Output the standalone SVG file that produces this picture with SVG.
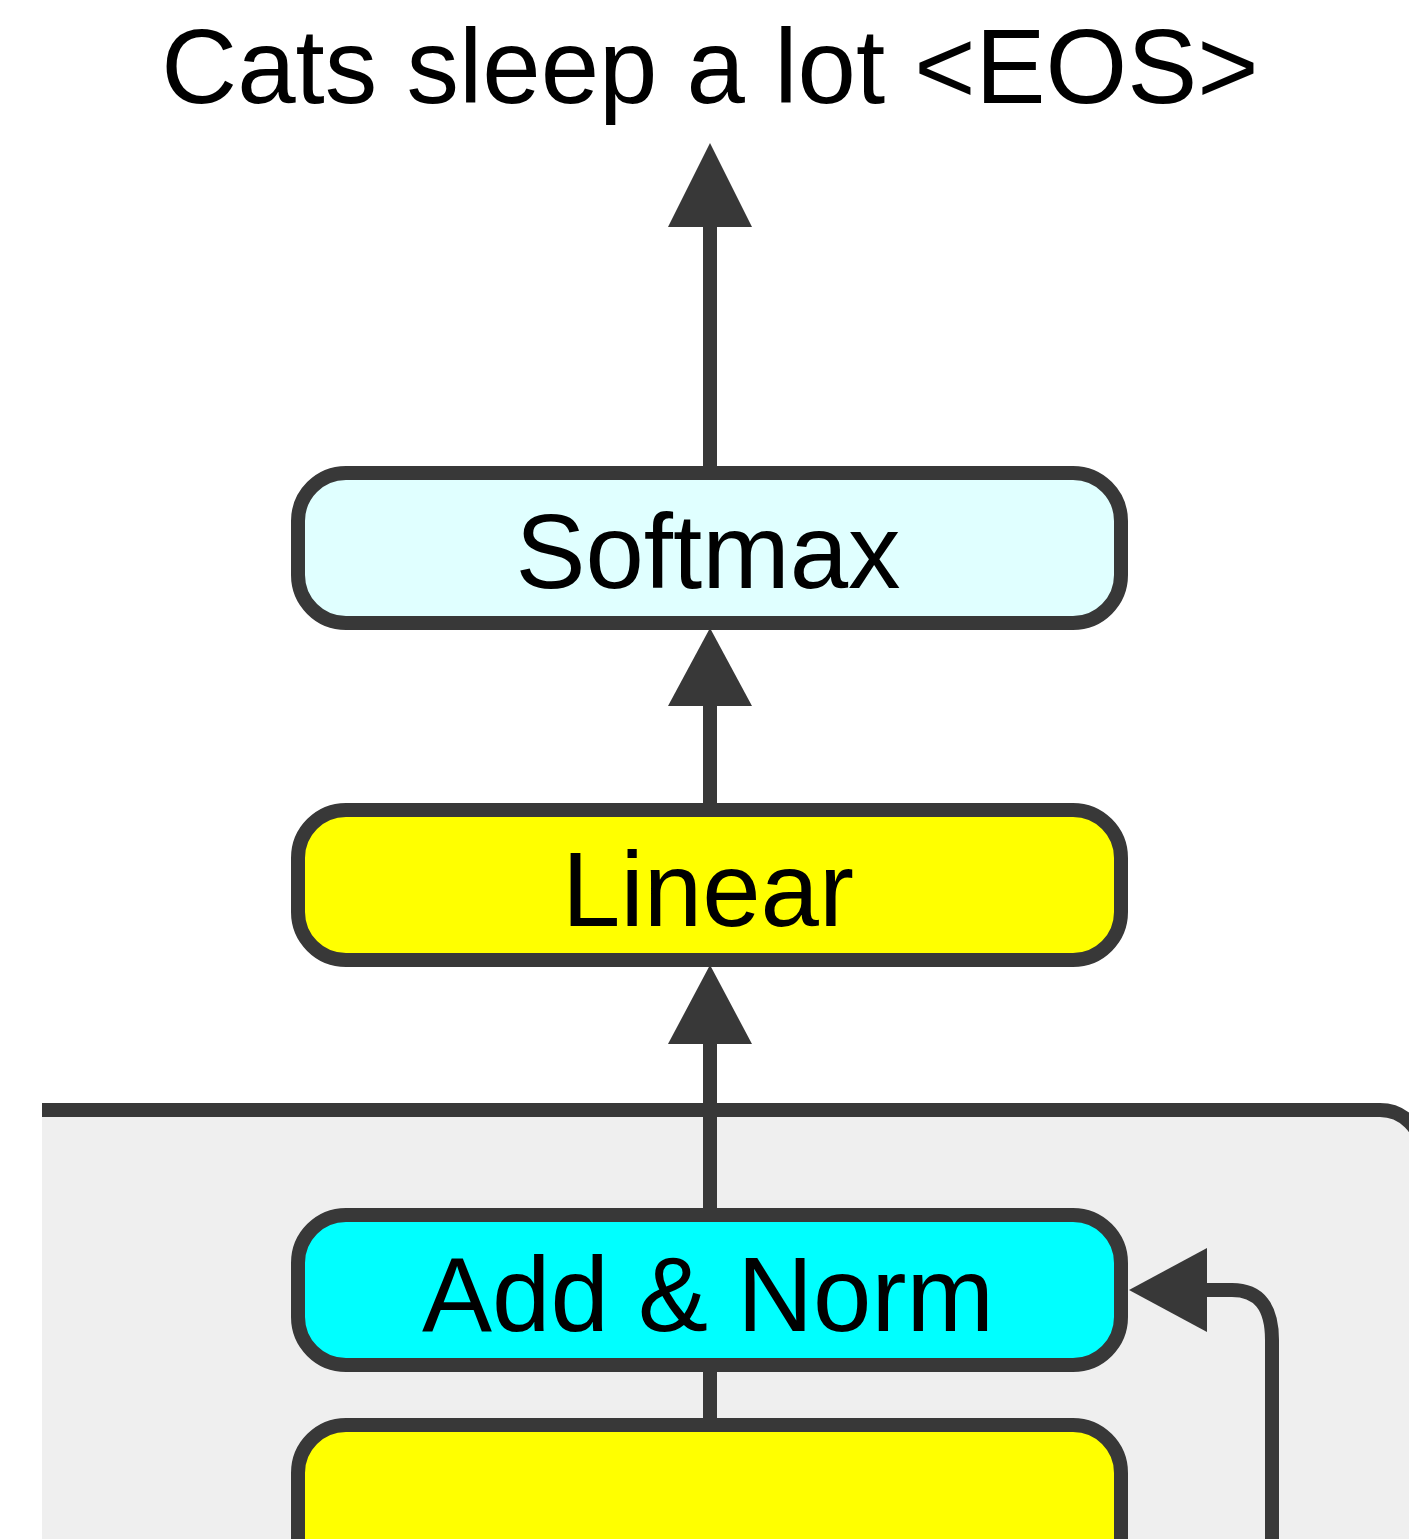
<svg xmlns="http://www.w3.org/2000/svg" width="1409" height="1539" viewBox="0 0 1409 1539">
<style>
.box{stroke:#383838;stroke-width:14}
.lbl{font-family:"Liberation Sans",Arial,sans-serif;font-size:105px;fill:#000;text-anchor:middle}
.ln{stroke:#383838;stroke-width:14;fill:none}
.ah{fill:#383838}
</style>
<defs>
<clipPath id="clipL"><rect x="42" y="0" width="1400" height="1539"/></clipPath>
</defs>
<rect width="1409" height="1539" fill="#ffffff"/>
<g id="decoder" clip-path="url(#clipL)">
<rect x="-200" y="1110" width="1622" height="600" rx="42" fill="#efefef" stroke="#383838" stroke-width="14"/>
</g>
<text class="lbl" x="710" y="103">Cats sleep a lot &lt;EOS&gt;</text>
<g id="softmax">
<rect class="box" x="298" y="473" width="823" height="150" rx="48" fill="#e0ffff"/>
<text class="lbl" x="708" y="588">Softmax</text>
</g>
<g id="linear">
<rect class="box" x="298" y="810" width="823" height="150" rx="48" fill="#ffff00"/>
<text class="lbl" x="708" y="926">Linear</text>
</g>
<g id="addnorm">
<rect class="box" x="298" y="1215" width="823" height="150" rx="48" fill="#00ffff"/>
<text class="lbl" x="708" y="1331">Add &amp; Norm</text>
</g>
<g id="sublayer">
<rect class="box" x="298" y="1425" width="823" height="200" rx="48" fill="#ffff00"/>
</g>
<g id="connectors">
<line class="ln" x1="710" y1="466" x2="710" y2="222"/>
<polygon class="ah" points="710,143 752,227 668,227"/>
<line class="ln" x1="710" y1="803" x2="710" y2="700"/>
<polygon class="ah" points="710,628 752,706 668,706"/>
<line class="ln" x1="710" y1="1208" x2="710" y2="1040"/>
<polygon class="ah" points="710,965 752,1044 668,1044"/>
<line class="ln" x1="710" y1="1418" x2="710" y2="1372"/>
<path class="ln" d="M1272,1539 V1340 Q1272,1290 1232,1290 H1200"/>
<polygon class="ah" points="1129,1290 1207,1248 1207,1332"/>
</g>
</svg>
